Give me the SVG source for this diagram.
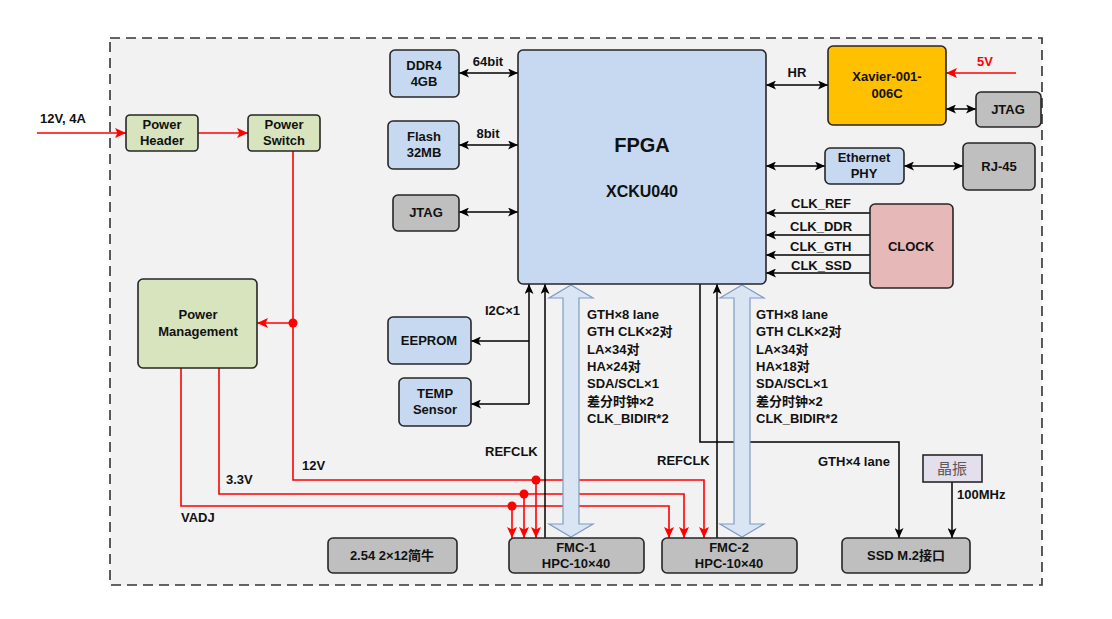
<svg xmlns="http://www.w3.org/2000/svg" width="1112" height="619" viewBox="0 0 1112 619">
<defs>
<marker id="ab" markerUnits="userSpaceOnUse" markerWidth="10" markerHeight="9" refX="10" refY="4.5" orient="auto-start-reverse"><path d="M0,0 L10,4.5 L0,9 L2.5,4.5 z" fill="#000"/></marker>
<marker id="ar" markerUnits="userSpaceOnUse" markerWidth="11" markerHeight="10" refX="11" refY="5" orient="auto-start-reverse"><path d="M0,0 L11,5 L0,10 L2.5,5 z" fill="#ff0000"/></marker>
</defs>
<style>
text{font-family:"Liberation Sans",Arial,"Noto Sans CJK SC",sans-serif;font-weight:bold;font-size:13px;fill:#111;}
.c{text-anchor:middle;}
.box{stroke:#262626;stroke-width:1.6;}
.g{fill:#d7e4bd;}
.b{fill:#c6d9f0;}
.gr{fill:#bfbfbf;}
.k{stroke:#000;stroke-width:1.5;fill:none;}
.r{stroke:#ff0000;stroke-width:1.6;fill:none;}
.hol{fill:#dae5f3;stroke:#7f9cc4;stroke-width:1.2;}
</style>
<rect x="0" y="0" width="1112" height="619" fill="#fff"/>
<rect x="110" y="38" width="932" height="547" fill="#f2f2f2" stroke="#333" stroke-width="1.6" stroke-dasharray="10,6"/>

<g id="connectors">
<!-- power -->
<line class="r" x1="37" y1="133" x2="126" y2="133" marker-end="url(#ar)"/>
<line class="r" x1="198" y1="133" x2="248" y2="133" marker-end="url(#ar)"/>
<polyline class="r" points="293,151 293,480 704,480 704,538" marker-end="url(#ar)"/>
<line class="r" x1="293" y1="323" x2="257" y2="323" marker-end="url(#ar)"/>
<circle cx="293" cy="323" r="4.5" fill="#ff0000"/>
<polyline class="r" points="219,368 219,494 684,494 684,538" marker-end="url(#ar)"/>
<polyline class="r" points="181,368 181,506 669,506 669,538" marker-end="url(#ar)"/>
<line class="r" x1="536" y1="480" x2="536" y2="538" marker-end="url(#ar)"/>
<line class="r" x1="524" y1="494" x2="524" y2="538" marker-end="url(#ar)"/>
<line class="r" x1="512" y1="506" x2="512" y2="538" marker-end="url(#ar)"/>
<circle cx="536" cy="480" r="4.5" fill="#ff0000"/>
<circle cx="524" cy="494" r="4.5" fill="#ff0000"/>
<circle cx="512" cy="506" r="4.5" fill="#ff0000"/>
<line class="r" x1="1016" y1="73" x2="946" y2="73" marker-end="url(#ar)"/>
<!-- left of FPGA -->
<line class="k" x1="459" y1="73" x2="518" y2="73" marker-start="url(#ab)" marker-end="url(#ab)"/>
<line class="k" x1="459" y1="145" x2="518" y2="145" marker-start="url(#ab)" marker-end="url(#ab)"/>
<line class="k" x1="459" y1="212" x2="518" y2="212" marker-start="url(#ab)" marker-end="url(#ab)"/>
<!-- right of FPGA -->
<line class="k" x1="766" y1="85" x2="828" y2="85" marker-start="url(#ab)" marker-end="url(#ab)"/>
<line class="k" x1="946" y1="109" x2="976" y2="109" marker-start="url(#ab)" marker-end="url(#ab)"/>
<line class="k" x1="766" y1="166" x2="825" y2="166" marker-start="url(#ab)" marker-end="url(#ab)"/>
<line class="k" x1="904" y1="166" x2="963" y2="166" marker-start="url(#ab)" marker-end="url(#ab)"/>
<line class="k" x1="870" y1="213" x2="766" y2="213" marker-end="url(#ab)"/>
<line class="k" x1="870" y1="235" x2="766" y2="235" marker-end="url(#ab)"/>
<line class="k" x1="870" y1="255" x2="766" y2="255" marker-end="url(#ab)"/>
<line class="k" x1="870" y1="273" x2="766" y2="273" marker-end="url(#ab)"/>
<!-- I2C -->
<line class="k" x1="529" y1="404" x2="529" y2="284" marker-end="url(#ab)"/>
<line class="k" x1="529" y1="341" x2="471" y2="341" marker-end="url(#ab)"/>
<line class="k" x1="529" y1="404" x2="471" y2="404" marker-end="url(#ab)"/>
<!-- REFCLK -->
<line class="k" x1="545" y1="538" x2="545" y2="284" marker-end="url(#ab)"/>
<line class="k" x1="717" y1="538" x2="717" y2="284" marker-end="url(#ab)"/>
<!-- GTH x4 -->
<polyline class="k" points="700,284 700,442 899,442 899,538" marker-end="url(#ab)"/>
<line class="k" x1="952" y1="482" x2="952" y2="538" marker-end="url(#ab)"/>
<!-- hollow buses -->
<polygon class="hol" points="571,285 593,298 579,298 579,524 593,524 571,537 549,524 563,524 563,298 549,298"/>
<polygon class="hol" points="742,285 764,298 750,298 750,524 764,524 742,537 720,524 734,524 734,298 720,298"/>
</g>

<g id="labels">
<text x="40" y="123">12V, 4A</text>
<text x="488" y="66" class="c">64bit</text>
<text x="488" y="138" class="c">8bit</text>
<text x="797" y="77" class="c">HR</text>
<text x="985" y="66" class="c" style="fill:#ff0000">5V</text>
<text x="791" y="208">CLK_REF</text>
<text x="790" y="231">CLK_DDR</text>
<text x="790" y="251">CLK_GTH</text>
<text x="791" y="270">CLK_SSD</text>
<text x="485" y="315">I2C×1</text>
<text x="485" y="456">REFCLK</text>
<text x="657" y="465">REFCLK</text>
<text x="818" y="466">GTH×4 lane</text>
<text x="957" y="499">100MHz</text>
<text x="302" y="470">12V</text>
<text x="226" y="484">3.3V</text>
<text x="181" y="522">VADJ</text>
<g id="list1">
<text x="587" y="319">GTH×8 lane</text>
<text x="587" y="336">GTH CLK×2对</text>
<text x="587" y="354">LA×34对</text>
<text x="587" y="371">HA×24对</text>
<text x="587" y="388">SDA/SCL×1</text>
<text x="587" y="406">差分时钟×2</text>
<text x="587" y="423">CLK_BIDIR*2</text>
</g>
<g id="list2">
<text x="756" y="319">GTH×8 lane</text>
<text x="756" y="336">GTH CLK×2对</text>
<text x="756" y="354">LA×34对</text>
<text x="756" y="371">HA×18对</text>
<text x="756" y="388">SDA/SCL×1</text>
<text x="756" y="406">差分时钟×2</text>
<text x="756" y="423">CLK_BIDIR*2</text>
</g>
</g>

<g id="power-header"><rect class="box g" x="126" y="115" width="72" height="36" rx="4"/><text class="c" x="162" y="129">Power</text><text class="c" x="162" y="145">Header</text></g>
<g id="power-switch"><rect class="box g" x="248" y="115" width="72" height="36" rx="4"/><text class="c" x="284" y="129">Power</text><text class="c" x="284" y="145">Switch</text></g>
<g id="power-management"><rect class="box g" x="138" y="279" width="119" height="89" rx="5"/><text class="c" x="198" y="319">Power</text><text class="c" x="198" y="336">Management</text></g>
<g id="ddr4"><rect class="box b" x="390" y="50" width="69" height="47" rx="5"/><text class="c" x="424" y="70">DDR4</text><text class="c" x="424" y="86">4GB</text></g>
<g id="flash"><rect class="box b" x="388" y="121" width="71" height="48" rx="5"/><text class="c" x="424" y="141">Flash</text><text class="c" x="424" y="157">32MB</text></g>
<g id="jtag-left"><rect class="box gr" x="393" y="195" width="66" height="36" rx="5"/><text class="c" x="426" y="217">JTAG</text></g>
<g id="fpga"><rect class="box" style="fill:#c6d9f0" x="518" y="50" width="248" height="234" rx="5"/><text class="c" x="642" y="152" style="font-size:20px">FPGA</text><text class="c" x="642" y="197" style="font-size:16px">XCKU040</text></g>
<g id="xavier"><rect class="box" style="fill:#ffc000" x="828" y="46" width="118" height="79" rx="5"/><text class="c" x="887" y="81">Xavier-001-</text><text class="c" x="887" y="98">006C</text></g>
<g id="jtag-right"><rect class="box gr" x="976" y="92" width="65" height="35" rx="5"/><text class="c" x="1008" y="114">JTAG</text></g>
<g id="ethernet-phy"><rect class="box b" x="825" y="148" width="79" height="36" rx="5"/><text class="c" x="864" y="162">Ethernet</text><text class="c" x="864" y="178">PHY</text></g>
<g id="rj45"><rect class="box gr" x="963" y="143" width="72" height="47" rx="5"/><text class="c" x="999" y="171">RJ-45</text></g>
<g id="clock"><rect class="box" style="fill:#e6b8b7" x="870" y="204" width="83" height="84" rx="5"/><text class="c" x="911" y="251">CLOCK</text></g>
<g id="eeprom"><rect class="box b" x="388" y="317" width="83" height="47" rx="5"/><text class="c" x="429" y="345">EEPROM</text></g>
<g id="temp-sensor"><rect class="box b" x="399" y="378" width="72" height="48" rx="5"/><text class="c" x="435" y="398">TEMP</text><text class="c" x="435" y="414">Sensor</text></g>
<g id="header-254"><rect class="box gr" x="328" y="538" width="129" height="35" rx="5"/><text class="c" x="392" y="560">2.54 2×12简牛</text></g>
<g id="fmc1"><rect class="box gr" x="509" y="538" width="135" height="35" rx="5"/><text class="c" x="576" y="552">FMC-1</text><text class="c" x="576" y="568">HPC-10×40</text></g>
<g id="fmc2"><rect class="box gr" x="662" y="538" width="135" height="35" rx="5"/><text class="c" x="729" y="552">FMC-2</text><text class="c" x="729" y="568">HPC-10×40</text></g>
<g id="ssd"><rect class="box gr" x="842" y="538" width="128" height="35" rx="5"/><text class="c" x="906" y="560">SSD M.2接口</text></g>
<g id="crystal"><rect x="923" y="455" width="59" height="27" fill="#e4dfec" stroke="#262626" stroke-width="1.6"/><text class="c" x="952" y="474" style="font-weight:normal;font-size:15px;fill:#595959">晶振</text></g>
</svg>
